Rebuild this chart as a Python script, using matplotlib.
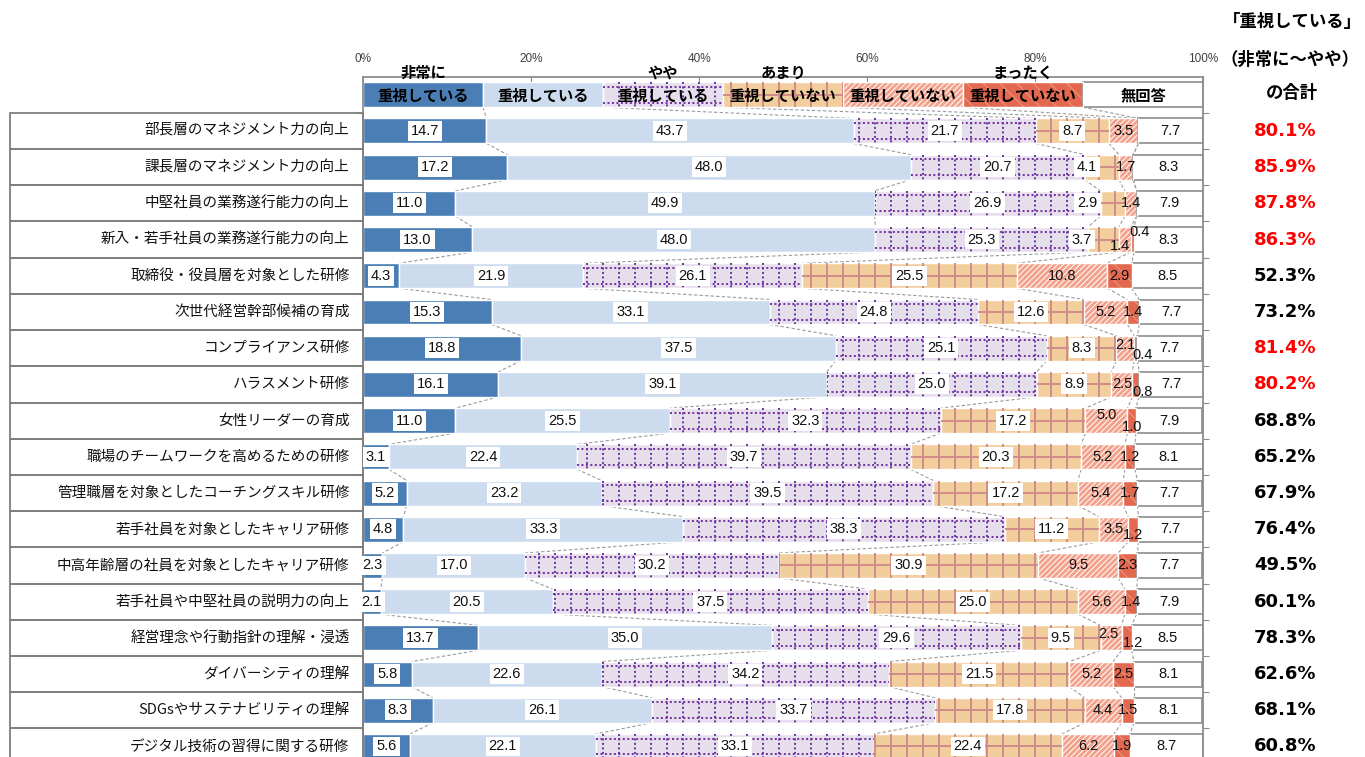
import numpy as np
import matplotlib
matplotlib.use("Agg")
from matplotlib import pyplot as plt
from matplotlib.patches import Rectangle
from matplotlib.collections import LineCollection

plt.rcParams['font.family'] = ['Noto Sans CJK JP', 'DejaVu Sans']
plt.rcParams['hatch.linewidth'] = 0.7

items = ['部長層のマネジメント力の向上', '課長層のマネジメント力の向上',
         '中堅社員の業務遂行能力の向上', '新入・若手社員の業務遂行能力の向上',
         '取締役・役員層を対象とした研修', '次世代経営幹部候補の育成',
         'コンプライアンス研修', 'ハラスメント研修', '女性リーダーの育成',
         '職場のチームワークを高めるための研修', '管理職層を対象としたコーチングスキル研修',
         '若手社員を対象としたキャリア研修', '中高年齢層の社員を対象としたキャリア研修',
         '若手社員や中堅社員の説明力の向上', '経営理念や行動指針の理解・浸透',
         'ダイバーシティの理解', 'SDGsやサステナビリティの理解', 'デジタル技術の習得に関する研修']

very     = [14.7, 17.2, 11.0, 13.0, 4.3, 15.3, 18.8, 16.1, 11.0, 3.1, 5.2, 4.8, 2.3, 2.1, 13.7, 5.8, 8.3, 5.6]
imp      = [43.7, 48.0, 49.9, 48.0, 21.9, 33.1, 37.5, 39.1, 25.5, 22.4, 23.2, 33.3, 17.0, 20.5, 35.0, 22.6, 26.1, 22.1]
somewhat = [21.7, 20.7, 26.9, 25.3, 26.1, 24.8, 25.1, 25.0, 32.3, 39.7, 39.5, 38.3, 30.2, 37.5, 29.6, 34.2, 33.7, 33.1]
notmuch  = [8.7, 4.1, 2.9, 3.7, 25.5, 12.6, 8.3, 8.9, 17.2, 20.3, 17.2, 11.2, 30.9, 25.0, 9.5, 21.5, 17.8, 22.4]
notimp   = [3.5, 1.7, 1.4, 1.4, 10.8, 5.2, 2.1, 2.5, 5.0, 5.2, 5.4, 3.5, 9.5, 5.6, 2.5, 5.2, 4.4, 6.2]
notatall = [0.0, 0.0, 0.0, 0.4, 2.9, 1.4, 0.4, 0.8, 1.0, 1.2, 1.7, 1.2, 2.3, 1.4, 1.2, 2.5, 1.5, 1.9]
noanswer = [7.7, 8.3, 7.9, 8.3, 8.5, 7.7, 7.7, 7.7, 7.9, 8.1, 7.7, 7.7, 7.7, 7.9, 8.5, 8.1, 8.1, 8.7]

legend_top = ['非常に', '', 'やや', 'あまり', '', 'まったく', '']
legend_main = ['重視している', '重視している', '重視している', '重視していない',
               '重視していない', '重視していない', '無回答']

colors = ['#4A7EB5', '#CCDCEE', '#E5DFEC', '#F2CE9C', '#F2A28C', '#E2694F', '#FFFFFF']

# label nudges for crowded small segments: (row, series) -> (dx %, dy rows)
nudge = {(2, 3): (-1.8, 0), (3, 3): (-3.0, 0), (4, 3): (-2.6, 0),
         (4, 4): (-0.6, 0.17), (4, 5): (0.8, -0.22), (7, 4): (0, -0.1),
         (7, 5): (0.8, 0.2), (8, 5): (0.8, 0.2), (9, 4): (0, -0.15),
         (9, 5): (0, 0.17), (12, 5): (0, 0.15), (15, 4): (-0.3, -0.1),
         (15, 5): (0.8, 0.15)}

data = np.array([very, imp, somewhat, notmuch, notimp, notatall, noanswer]).T
totals = np.round(data[:, :3].sum(axis=1), 1)

rows = np.vstack([np.full(7, 100 / 7), data])  # row 0 is the legend bar
n = len(rows)
h = 0.69
step = 16 / 8.4  # pattern spacing in % units

fig = plt.figure(figsize=(13.65, 7.57), dpi=100)
ax = fig.add_axes([363 / 1365, 0, 840 / 1365, 680 / 757])
ax.set_xlim(0, 100)
ax.set_ylim(18.29, -0.49)

lefts = np.hstack([np.zeros((n, 1)), np.cumsum(rows, axis=1)[:, :-1]])
rights = lefts + rows

# dashed series lines between consecutive bars
for i in range(n - 1):
    for k in range(6):
        ax.plot([rights[i, k], rights[i + 1, k]], [i + h / 2, i + 1 - h / 2],
                color='#9A9A9A', lw=0.8, ls=(0, (3, 2)), zorder=1)

ypos = np.arange(n)
for k in range(7):
    w = rows[:, k]
    l = lefts[:, k]
    if k == 4:
        ax.barh(ypos, w, left=l, height=h, color=colors[k], edgecolor='white',
                hatch='//////', lw=1.0, zorder=2)
    elif k == 5:
        ax.barh(ypos, w, left=l, height=h, color=colors[k], edgecolor='#EE9783',
                hatch='\\\\', lw=0, zorder=2)
        ax.barh(ypos, w, left=l, height=h, fill=False, edgecolor='white', lw=1.0, zorder=3)
    elif k == 6:
        ax.barh(ypos, w, left=l, height=h, color='white', edgecolor='#8C8C8C', lw=1.2, zorder=2)
    else:
        bars = ax.barh(ypos, w, left=l, height=h, color=colors[k], edgecolor='white',
                       lw=1.0, zorder=2)
        if k in (2, 3):
            for i, b in enumerate(bars):
                x0, x1 = l[i], l[i] + w[i]
                if w[i] <= 0:
                    continue
                xs = np.arange(np.ceil(x0 / step) * step, x1, step)
                segs = [[(x, i - h / 2), (x, i + h / 2)] for x in xs]
                if k == 2:
                    segs += [[(x0, i + dy), (x1, i + dy)] for dy in (-0.22, 0.22)]
                    lc = LineCollection(segs, colors='#7030A0', linewidths=1.4,
                                        linestyles=[(0, (1, 1.3))], zorder=2.5)
                else:
                    segs += [[(x0, i), (x1, i)]]
                    lc = LineCollection(segs, colors='#CF8C8C', linewidths=1.4, zorder=2.5)
                ax.add_collection(lc)
                lc.set_clip_path(b)

# value labels
num_font = ['Liberation Sans', 'DejaVu Sans']
for i in range(1, n):
    for k in range(7):
        v = rows[i, k]
        if v <= 0:
            continue
        dx, dy = nudge.get((i, k), (0, 0))
        x = lefts[i, k] + v / 2 + dx
        box = dict(boxstyle='square,pad=0.2', fc='white', ec='none') if k in (0, 1, 2, 3) else None
        ax.text(x, i + dy, f'{v:.1f}', ha='center', va='center', fontsize=10.5,
                family=num_font, color='#111111', bbox=box, zorder=5)

# legend row text
for k in range(7):
    xc = lefts[0, k] + rows[0, k] / 2
    ax.text(xc, 0.02, legend_main[k], ha='center', va='center', fontsize=11,
            fontweight='bold', color='black', zorder=5)
    if legend_top[k]:
        ax.text(xc, -0.6, legend_top[k], ha='center', va='center', fontsize=11,
                fontweight='bold', color='black', zorder=6, clip_on=False)

# category label boxes on the left
for i, name in enumerate(items, start=1):
    ax.add_patch(Rectangle((-42, i - 0.5), 42, 1, fill=False, edgecolor='#7F7F7F',
                           lw=1.3, clip_on=False, zorder=4))
    ax.text(-1.6, i, name, ha='right', va='center', fontsize=10.5, color='#111111',
            clip_on=False)

# totals column
ax.text(110.6, -2.01, '「重視している」', ha='center', va='center', fontsize=12.5,
        fontweight='bold', clip_on=False)
ax.text(110.4, -0.96, '（非常に～やや）', ha='center', va='center', fontsize=12.5,
        fontweight='bold', clip_on=False)
ax.text(110.6, -0.05, 'の合計', ha='center', va='center', fontsize=12.5,
        fontweight='bold', clip_on=False)
for i, t in enumerate(totals, start=1):
    ax.text(109.8, i, f'{t:.1f}%', ha='center', va='center', fontsize=13,
            fontweight='bold', family=['DejaVu Sans'],
            color='#FF0000' if t >= 80 else 'black', clip_on=False)

# axes styling
ax.xaxis.tick_top()
ax.set_xticks(np.arange(0, 101, 20))
ax.set_xticklabels([f'{t}%' for t in range(0, 101, 20)], fontsize=8.5,
                   family=num_font, color='#404040')
ax.tick_params(axis='x', direction='in', length=4, color='#8C8C8C', pad=9)
ax.set_yticks(np.arange(0.5, 18.5, 1))
ax.set_yticklabels([])
ax.tick_params(axis='y', direction='out', length=4, color='#8C8C8C',
               left=True, right=True)
for s in ('top', 'left', 'right'):
    ax.spines[s].set_color('#8C8C8C')
    ax.spines[s].set_linewidth(1.3)
ax.spines['bottom'].set_visible(False)

fig.savefig('out.png', dpi=100)
